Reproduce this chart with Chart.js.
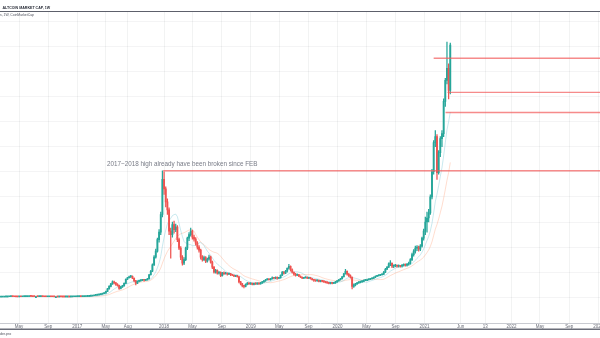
<!DOCTYPE html>
<html lang="en">
  <head>
    <meta charset="UTF-8" />
    <meta name="viewport" content="width=device-width, initial-scale=1.0" />
    <title>Altcoin Market Cap, 1W</title>
    <script src="https://cdn.jsdelivr.net/npm/chart.js@4.4.1/dist/chart.umd.min.js"></script>
    <style>
      html,
      body {
        margin: 0;
        padding: 0;
        background: #fff;
        overflow: hidden;
      }
      /* wider than the window: the price scale on the right stays out of view */
      #chartContainer {
        position: relative;
        width: 640px;
        height: 338px;
      }
    </style>
  </head>
  <body>
    <div id="chartContainer"><canvas id="chart"></canvas></div>
    <script>
      // weekly candles, billions USD, first week starts 2016-02-15
      const firstWeek = "2016-02-15";
      const firstOpen = 1.4;
      const closes = [
        1.5, 1.6, 1.8, 2.0, 2.6, 3.0, 3.2, 2.8, 2.6, 2.5,
        2.4, 2.6, 2.5, 2.7, 2.9, 3.0, 3.5, 4.0, 3.8, 3.2,
        3.0, 3.0, 2.8, 2.9, 3.1, 2.8, 2.6, 2.5, 2.6, 2.7,
        2.6, 2.5, 2.4, 2.4, 2.3, 2.5, 2.4, 2.3, 2.2, 2.3,
        2.4, 2.3, 2.4, 2.5, 2.6, 2.8, 3.0, 3.2, 3.1, 3.3,
        3.5, 3.8, 4.2, 4.8, 5.5, 6.5, 8, 9, 10, 11,
        13, 15, 17, 24, 34, 44, 54, 62, 58, 52,
        48, 36, 42, 46, 56, 72, 78, 82, 84, 76,
        66, 57, 64, 66, 68, 70, 68, 70, 74, 90,
        104, 130, 160, 184, 230, 260, 330, 470, 432, 380,
        348, 264, 250, 290, 270, 280, 230, 196, 160, 136,
        150, 196, 236, 250, 264, 240, 232, 216, 200, 188,
        160, 150, 158, 144, 152, 160, 140, 120, 100, 108,
        96, 100, 86, 98, 94, 96, 92, 94, 90, 88,
        84, 86, 82, 62, 54, 46, 44, 52, 56, 54,
        56, 52, 56, 54, 56, 54, 58, 62, 66, 70,
        72, 70, 74, 78, 76, 80, 76, 78, 88, 100,
        96, 104, 116, 124, 110, 100, 92, 88, 90, 84,
        80, 76, 78, 80, 76, 78, 74, 70, 68, 66,
        68, 64, 66, 64, 62, 60, 58, 56, 58, 56,
        58, 62, 66, 70, 74, 82, 94, 104, 92, 86,
        80, 44, 50, 54, 58, 60, 62, 64, 68, 70,
        70, 72, 74, 76, 80, 84, 86, 88, 90, 92,
        100, 112, 120, 134, 136, 124, 126, 128, 124, 126,
        124, 128, 130, 128, 132, 136, 150, 170, 184, 196,
        200, 192, 204, 236, 264, 300, 316, 336, 400, 500,
        616, 640, 496, 576, 632, 652, 780, 864, 912, 824,
        1004,
      ];
      const highs = [
        1.7, 1.8, 2.0, 2.2, 2.8, 3.3, 3.5, 3.3, 2.9, 2.7,
        2.6, 2.7, 2.7, 2.8, 3.0, 3.2, 3.7, 4.3, 4.2, 3.9,
        3.3, 3.2, 3.1, 3.0, 3.2, 3.2, 2.9, 2.7, 2.7, 2.8,
        2.8, 2.7, 2.6, 2.5, 2.5, 2.6, 2.6, 2.5, 2.4, 2.4,
        2.5, 2.5, 2.5, 2.6, 2.7, 2.9, 3.2, 3.4, 3.4, 3.4,
        3.7, 4.0, 4.4, 5.0, 5.8, 7.0, 8.6, 9.8, 11, 12,
        14, 16, 18, 25, 36, 47, 56, 66, 65, 60,
        55, 49, 44, 48, 58, 74, 80, 85, 88, 86,
        78, 68, 66, 68, 70, 72, 72, 72, 76, 92,
        108, 134, 166, 192, 236, 270, 340, 504, 500, 440,
        392, 356, 276, 300, 304, 292, 286, 236, 202, 166,
        158, 200, 240, 258, 276, 268, 248, 238, 222, 206,
        192, 166, 164, 162, 156, 168, 164, 144, 124, 112,
        110, 104, 102, 100, 102, 100, 98, 98, 96, 92,
        90, 88, 88, 84, 64, 56, 48, 54, 60, 58,
        58, 58, 58, 58, 58, 58, 60, 64, 68, 72,
        75, 74, 76, 82, 80, 82, 82, 80, 90, 104,
        104, 108, 118, 132, 126, 114, 102, 96, 94, 92,
        86, 82, 80, 82, 82, 80, 80, 76, 72, 70,
        70, 70, 68, 68, 66, 64, 62, 60, 60, 60,
        60, 64, 68, 72, 76, 84, 96, 112, 106, 96,
        90, 82, 54, 56, 60, 63, 65, 67, 70, 72,
        73, 74, 76, 78, 82, 86, 88, 90, 92, 94,
        104, 116, 124, 138, 146, 138, 130, 132, 130, 130,
        128, 132, 134, 134, 136, 140, 154, 176, 190, 204,
        206, 204, 210, 240, 272, 320, 340, 350, 408, 510,
        624, 664, 648, 584, 640, 664, 790, 872, 1016, 930,
        1012,
      ];
      const lows = [
        1.3, 1.4, 1.5, 1.7, 1.9, 2.5, 2.9, 2.6, 2.4, 2.3,
        2.3, 2.3, 2.4, 2.4, 2.6, 2.8, 2.9, 3.4, 3.4, 3.0,
        2.8, 2.8, 2.7, 2.7, 2.8, 2.7, 2.5, 2.4, 2.4, 2.5,
        2.5, 2.4, 2.3, 2.3, 2.2, 2.2, 2.3, 2.2, 2.1, 2.1,
        2.2, 2.2, 2.2, 2.3, 2.4, 2.5, 2.7, 2.9, 3.0, 3.0,
        3.2, 3.4, 3.7, 4.1, 4.6, 5.3, 6.3, 7.6, 8.6, 9.5,
        10.5, 12.5, 14.5, 16.5, 23, 33, 42, 52, 54, 48,
        45, 32, 34, 40, 45, 55, 70, 76, 78, 74,
        62, 50, 55, 62, 64, 66, 65, 66, 68, 72,
        88, 102, 126, 156, 180, 220, 250, 320, 410, 360,
        330, 250, 156, 240, 256, 262, 222, 190, 150, 128,
        130, 146, 190, 226, 244, 232, 224, 208, 192, 180,
        152, 144, 146, 138, 140, 148, 136, 114, 96, 96,
        92, 92, 82, 84, 90, 92, 88, 90, 86, 86,
        82, 82, 80, 58, 50, 42, 38, 42, 50, 52,
        52, 50, 50, 52, 52, 52, 53, 56, 60, 64,
        68, 68, 68, 72, 73, 74, 72, 74, 76, 86,
        92, 94, 100, 112, 104, 96, 88, 84, 86, 82,
        78, 74, 74, 76, 74, 74, 72, 68, 64, 64,
        64, 62, 62, 62, 60, 58, 56, 54, 54, 54,
        55, 56, 60, 64, 68, 72, 80, 92, 88, 82,
        76, 34, 40, 46, 52, 56, 58, 60, 62, 66,
        67, 68, 70, 72, 74, 78, 82, 84, 86, 88,
        90, 98, 110, 118, 126, 118, 118, 122, 120, 120,
        120, 120, 124, 124, 124, 128, 132, 146, 164, 176,
        186, 184, 186, 200, 228, 250, 260, 300, 330, 392,
        490, 600, 470, 490, 560, 600, 640, 760, 850, 790,
        810,
      ];

      // time axis labels
      const tickDates = [
        "2016-05-01", "2016-09-01", "2017-01-01", "2017-05-01", "2017-08-01",
        "2018-01-01", "2018-05-01", "2018-09-01", "2019-01-01", "2019-05-01",
        "2019-09-01", "2020-01-01", "2020-05-01", "2020-09-01", "2021-01-01",
        "2021-06-01", "2021-09-13", "2022-01-01", "2022-05-01", "2022-09-01",
        "2023-01-01",
      ];
      const tickLabels = [
        "May", "Sep", "2017", "May", "Aug", "2018", "May", "Sep", "2019", "May",
        "Sep", "2020", "May", "Sep", "2021", "Jun", "13", "2022", "May", "Sep",
        "2023",
      ];
      const priceGrid = [0, 100, 200, 300, 400, 500, 600, 700, 800, 900, 1000, 1100];

      // horizontal levels drawn on the chart
      const levels = [504, 952, 816, 736];
      const levelStarts = ["2017-12-28", "2021-02-08", "2021-04-07", "2021-03-30"];

      const noteText = "2017~2018 high already have been broken since FEB";
      const noteDate = "2017-05-06";

      const UP = "#26a69a";
      const DOWN = "#ef5350";
      const FONT = '"Liberation Sans", Arial, sans-serif';

      const weekOf = (d) => (Date.parse(d) - Date.parse(firstWeek)) / 6048e5;
      const tickWeeks = tickDates.map(weekOf);
      const xMin = -0.6;
      const xMax = 384;

      const opens = closes.map((c, i) => (i === 0 ? firstOpen : closes[i - 1]));
      const bodies = closes.map((c, i) => ({ x: i, y: [opens[i], c], up: c >= opens[i] }));
      const wicks = closes.map((c, i) => ({ x: i, y: [lows[i], highs[i]], up: c >= opens[i] }));

      function sma(values, n) {
        const out = [];
        for (let i = n - 1; i < values.length; i++) {
          let sum = 0;
          for (let k = i - n + 1; k <= i; k++) sum += values[k];
          out.push({ x: i, y: sum / n });
        }
        return out;
      }

      const candleColor = (ctx) => (ctx.raw && ctx.raw.up ? UP : DOWN);

      const levelSets = levels.map((v, i) => ({
        type: "line",
        data: [
          { x: weekOf(levelStarts[i]), y: v },
          { x: xMax, y: v },
        ],
        borderColor: "rgba(242, 90, 90, 0.7)",
        borderWidth: 1.4,
        pointRadius: 0,
        order: 0,
      }));

      // header, note and footer
      const chrome = {
        id: "chrome",
        afterDraw(chart) {
          const { ctx, scales } = chart;
          ctx.save();
          ctx.textBaseline = "middle";

          ctx.fillStyle = "#2a2e39";
          ctx.font = "bold 3.6px " + FONT;
          ctx.fillText("ALTCOIN MARKET CAP, 1W", 2.5, 7.5);
          ctx.strokeStyle = "#5d606b";
          ctx.lineWidth = 1;
          ctx.beginPath();
          ctx.moveTo(0, 11.5);
          ctx.lineTo(chart.width, 11.5);
          ctx.stroke();

          ctx.fillStyle = "#50535e";
          ctx.font = "3.4px " + FONT;
          ctx.fillText("s, 1W, CoinMarketCap", 0, 15.5);

          const nx = scales.x.getPixelForValue(weekOf(noteDate));
          const ny = scales.y.getPixelForValue(levels[0]) - 7;
          ctx.fillStyle = "#787b86";
          ctx.font = "6.3px " + FONT;
          ctx.fillText(noteText, nx, ny);

          ctx.strokeStyle = "#6a6d78";
          ctx.lineWidth = 1.4;
          ctx.beginPath();
          ctx.moveTo(0, 329.3);
          ctx.lineTo(chart.width, 329.3);
          ctx.stroke();
          ctx.fillStyle = "#50535e";
          ctx.font = "3.6px " + FONT;
          ctx.fillText("der.pro", 0, 333.5);
          ctx.restore();
        },
      };

      new Chart(document.getElementById("chart"), {
        type: "bar",
        data: {
          datasets: [
            ...levelSets,
            {
              data: bodies,
              backgroundColor: candleColor,
              barThickness: 1.2,
              minBarLength: 1,
              grouped: false,
              order: 1,
            },
            {
              data: wicks,
              backgroundColor: candleColor,
              barThickness: 0.6,
              grouped: false,
              order: 2,
            },
            {
              type: "line",
              data: sma(closes, 10),
              borderColor: "rgba(120, 200, 215, 0.5)",
              borderWidth: 0.8,
              pointRadius: 0,
              order: 3,
            },
            {
              type: "line",
              data: sma(closes, 20),
              borderColor: "rgba(255, 160, 120, 0.45)",
              borderWidth: 0.8,
              pointRadius: 0,
              order: 4,
            },
          ],
        },
        options: {
          responsive: true,
          maintainAspectRatio: false,
          animation: false,
          events: [],
          layout: { padding: { top: 12, bottom: 7.1, left: 0, right: 0 } },
          plugins: { legend: { display: false }, tooltip: { enabled: false } },
          scales: {
            x: {
              type: "linear",
              min: xMin,
              max: xMax,
              offset: false,
              afterBuildTicks: (s) => {
                s.ticks = tickWeeks.map((v) => ({ value: v }));
              },
              ticks: {
                callback: (v, i) => tickLabels[i],
                autoSkip: false,
                maxRotation: 0,
                padding: 1,
                color: "#6a6d78",
                font: { family: FONT, size: 4.5, lineHeight: 1.2 },
              },
              grid: { color: "rgba(42, 46, 57, 0.06)", drawTicks: false, offset: false },
              border: { color: "#c9cbd1" },
            },
            y: {
              type: "linear",
              position: "right",
              min: -104,
              max: 1136,
              afterBuildTicks: (s) => {
                s.ticks = priceGrid.map((v) => ({ value: v }));
              },
              ticks: { display: false },
              grid: { color: "rgba(42, 46, 57, 0.05)", drawTicks: false },
              border: { display: false },
            },
          },
        },
        plugins: [chrome],
      });
    </script>
  </body>
</html>
